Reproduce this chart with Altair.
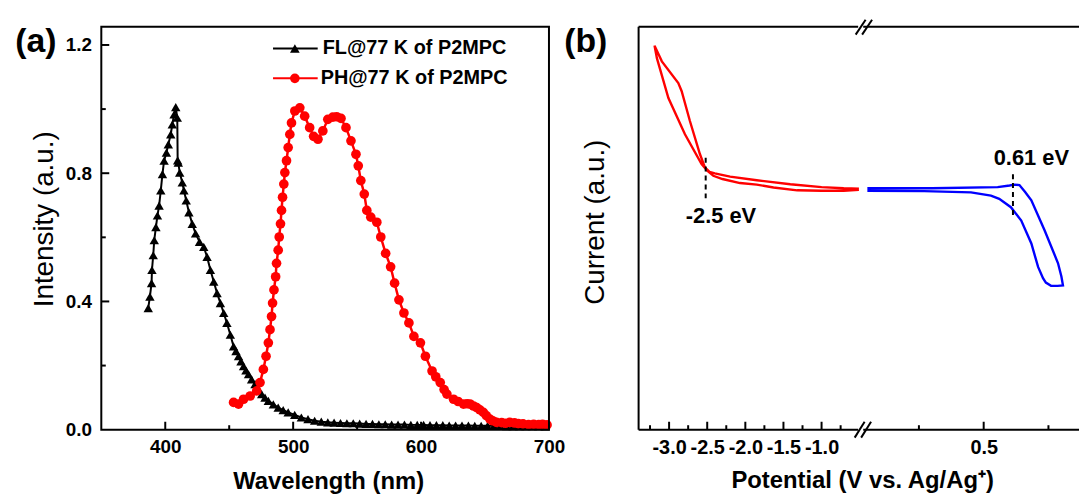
import altair as alt
import pandas as pd

FONT = "Liberation Sans"

# ---------------- Panel (a): emission spectra ----------------
fl_nm = [386.7, 388.0, 389.3, 389.6, 390.6, 391.4, 392.7, 393.9, 395.2, 396.5, 397.8, 399.1,
         400.9, 402.4, 404.3, 405.5, 406.9, 408.2, 409.4, 409.7, 410.2, 411.3, 413.3, 414.6,
         416.4, 418.5, 421.1, 423.7, 426.8, 430.1, 432.7, 435.3, 437.9, 440.5, 443.1, 445.7,
         448.2, 450.9, 453.4, 455.3, 457.3, 459.2, 461.2, 463.1, 465.1, 467.5, 470.2, 472.8,
         475.4, 478.0, 480.6, 484.5, 488.3, 492.2, 496.1, 501.2, 506.4, 511.6, 516.8, 522.0,
         527.1, 532, 537, 542, 547, 552, 557, 562, 567, 572, 577, 582, 587, 592, 597, 602,
         607, 612, 617, 622, 627, 632, 637, 642, 647, 652, 657, 662, 667, 672, 677, 682,
         687, 692, 697]
fl_int = [0.379, 0.415, 0.457, 0.498, 0.544, 0.591, 0.632, 0.668, 0.699, 0.746, 0.797, 0.839,
          0.864, 0.890, 0.921, 0.952, 0.983, 1.006, 0.973, 0.840, 0.833, 0.802, 0.771, 0.746,
          0.715, 0.678, 0.642, 0.612, 0.586, 0.570, 0.539, 0.498, 0.462, 0.426, 0.395, 0.364,
          0.333, 0.296, 0.260, 0.245, 0.229, 0.213, 0.198, 0.185, 0.173, 0.157, 0.142, 0.126,
          0.111, 0.100, 0.090, 0.079, 0.069, 0.061, 0.054, 0.046, 0.038, 0.033, 0.028, 0.025,
          0.023, 0.022, 0.021, 0.020, 0.020, 0.019, 0.018, 0.018, 0.017, 0.017, 0.016, 0.016,
          0.016, 0.015, 0.015, 0.015, 0.014, 0.014, 0.014, 0.013, 0.013, 0.013, 0.013, 0.012,
          0.012, 0.012, 0.012, 0.012, 0.011, 0.011, 0.011, 0.011, 0.011, 0.011, 0.010]

ph_nm = [453.4, 457.3, 461.2, 466.4, 471.5, 474.1, 476.7, 478.8, 480.6, 481.9, 483.1, 483.9,
         485.0, 486.3, 487.0, 488.3, 489.1, 490.1, 490.9, 491.7, 492.7, 493.5, 494.8, 496.1,
         497.4, 498.7, 501.3, 505.2, 509.0, 512.9, 516.0, 519.4, 523.2, 527.1, 531.0, 534.0,
         537.4, 541.3, 545.2, 549.1, 550.9, 552.9, 555.6, 557.6, 560.7, 565.4, 568.5, 572.3,
         576.2, 579.3, 582.7, 586.6, 590.5, 594.4, 599.5, 603.4, 608.6, 611.5, 615.0, 618.0,
         620.2, 625.4, 629.0, 633.2, 636.0, 638.3, 641.0, 643.5, 646.0, 648.7, 651.0, 653.8,
         656.0, 659.0, 663.0, 666.0, 669.3, 673.0, 676.0, 679.7, 684.0, 688.0, 692.0, 695.0,
         698.5]
ph_int = [0.085, 0.080, 0.095, 0.105, 0.121, 0.147, 0.188, 0.229, 0.271, 0.312, 0.353, 0.395,
          0.436, 0.477, 0.519, 0.560, 0.601, 0.642, 0.684, 0.725, 0.766, 0.802, 0.839, 0.880,
          0.921, 0.957, 0.994, 1.004, 0.978, 0.942, 0.915, 0.906, 0.932, 0.968, 0.975, 0.976,
          0.971, 0.942, 0.901, 0.859, 0.823, 0.777, 0.735, 0.684, 0.663, 0.647, 0.601, 0.550,
          0.508, 0.457, 0.405, 0.364, 0.333, 0.291, 0.271, 0.229, 0.183, 0.165, 0.147, 0.125,
          0.111, 0.095, 0.088, 0.080, 0.081, 0.080, 0.074, 0.069, 0.062, 0.054, 0.044, 0.033,
          0.028, 0.023, 0.022, 0.020, 0.023, 0.021, 0.019, 0.018, 0.016, 0.017, 0.016, 0.017,
          0.015]

legend_labels = ["FL@77 K of P2MPC", "PH@77 K of  P2MPC"]

a_x_major = [400, 500, 600, 700]
a_x_minor = [450, 550, 650]
a_y_labels = [0.0, 0.4, 0.8, 1.2]
a_y_major = [0.4, 0.8, 1.2]
a_y_minor = [0.2, 0.6, 1.0]

# ---------------- Panel (b): cyclic voltammetry ----------------
red_v = [-0.51, -0.71, -1.00, -1.41, -1.85, -2.20, -2.40, -2.47, -2.53, -2.596, -2.727, -2.835,
         -2.879, -3.095, -3.191, -3.160, -3.009, -2.792, -2.574, -2.50, -2.42, -2.30, -2.07,
         -1.85, -1.63, -1.32, -1.00, -0.71, -0.51]
red_i = [59.8, 59.9, 60.2, 60.9, 61.9, 62.8, 63.6, 64.0, 65.1, 68.4, 76.6, 84.0,
         86.0, 91.4, 95.3, 92.2, 82.3, 73.3, 65.9, 64.3, 63.0, 62.2, 61.2,
         60.8, 60.1, 59.4, 59.3, 59.3, 59.5]

blue_v = [0.051, 0.30, 0.554, 0.60, 0.619, 0.638, 0.660, 0.684, 0.735, 0.787, 0.800, 0.806,
          0.785, 0.760, 0.740, 0.729, 0.710, 0.684, 0.645, 0.605, 0.560, 0.528, 0.451, 0.270,
          0.051]
blue_i = [59.9, 59.9, 60.2, 60.6, 60.8, 60.7, 59.0, 56.9, 49.5, 41.3, 38.0, 35.8,
          35.7, 35.7, 36.5, 37.6, 40.4, 46.2, 51.9, 55.2, 57.3, 58.1, 58.9, 59.2,
          59.3]

b_red_major = [-3.0, -2.5, -2.0, -1.5, -1.0]
b_red_minor = [-3.25, -2.75, -2.25, -1.75, -1.25, -0.75]
b_blue_major = [0.5]
b_blue_minor = [0.25, 0.75]

onset_v = [-2.52, 0.613]
onset_top = [67.5, 63.4]
onset_bottom = [56.9, 52.7]
onset_labels = ["-2.5 eV", "0.61 eV"]
onset_label_v = [-2.32, 0.684]
onset_label_i = [52.9, 67.5]

# ---------------- layout constants ----------------
W, H = 985, 406
RED = "#ff0000"
BLUE = "#0000ff"

a_xs = alt.Scale(domain=[350, 700], range=[0, 451], nice=False, zero=False)
a_ys = alt.Scale(domain=[0, 1.257], nice=False, zero=False)
r_xs = alt.Scale(domain=[-3.40, -0.52], range=[541.3, 762.5], nice=False, zero=False)
b_xs = alt.Scale(domain=[0.035, 0.868], range=[767.6, 985], nice=False, zero=False)
cv_ys = alt.Scale(domain=[0, 100], nice=False, zero=False)

common = dict(ticks=False, domain=False, grid=False, labelOverlap=False, labelFlush=False, title=None)
a_x_axis = alt.Axis(orient="bottom", values=a_x_major, format="d", labelPadding=8,
                    labelFontSize=19, **common)
a_y_axis = alt.Axis(orient="left", values=a_y_labels, format=".1f", labelPadding=10,
                    labelFontSize=19, **common)
r_x_axis = alt.Axis(orient="bottom", values=b_red_major, labelPadding=8, labelFontSize=20,
                    labelExpr="(datum.value < 0 ? '-' : '') + format(abs(datum.value), '.1f')", **common)
b_x_axis = alt.Axis(orient="bottom", values=b_blue_major, format=".1f", labelPadding=8,
                    labelFontSize=20, **common)

XA = alt.X("nm:Q", scale=a_xs, axis=a_x_axis)
YA = alt.Y("I:Q", scale=a_ys, axis=a_y_axis)
XR = alt.X("V:Q", scale=r_xs, axis=r_x_axis)
XB = alt.X("V:Q", scale=b_xs, axis=b_x_axis)
YC = alt.Y("I:Q", scale=cv_ys, axis=None)

fl_df = pd.DataFrame({"nm": fl_nm, "I": fl_int})
ph_df = pd.DataFrame({"nm": ph_nm, "I": ph_int})

fl_line = alt.Chart(fl_df).mark_line(color="black", strokeWidth=2).encode(x=XA, y=YA)
fl_pts = alt.Chart(fl_df).mark_point(shape="triangle-up", filled=True, color="black",
                                     size=90, opacity=1).encode(x=XA, y=YA)
ph_line = alt.Chart(ph_df).mark_line(color=RED, strokeWidth=2.5).encode(x=XA, y=YA)
ph_pts = alt.Chart(ph_df).mark_circle(color=RED, size=95, opacity=1).encode(x=XA, y=YA)


def xticks(vals, field, X, length):
    return alt.Chart(pd.DataFrame({field: vals})).mark_rule(color="black", strokeWidth=2).encode(
        x=X, y=alt.value(H), y2=alt.value(H - length))


a_ticks_y_major = alt.Chart(pd.DataFrame({"I": a_y_major})).mark_rule(color="black", strokeWidth=2).encode(
    y=YA, x=alt.value(0), x2=alt.value(8))
a_ticks_y_minor = alt.Chart(pd.DataFrame({"I": a_y_minor})).mark_rule(color="black", strokeWidth=2).encode(
    y=YA, x=alt.value(0), x2=alt.value(4.5))

group_a = alt.layer(
    fl_line, fl_pts, ph_line, ph_pts,
    xticks(a_x_major, "nm", XA, 8), xticks(a_x_minor, "nm", XA, 4.5),
    a_ticks_y_major, a_ticks_y_minor,
)

red_df = pd.DataFrame({"V": red_v, "I": red_i, "idx": list(range(len(red_v)))})
blue_df = pd.DataFrame({"V": blue_v, "I": blue_i, "idx": list(range(len(blue_v)))})

red_line = alt.Chart(red_df).mark_line(color=RED, strokeWidth=2.4).encode(
    x=XR, y=YC, order=alt.Order("idx:Q"))
blue_line = alt.Chart(blue_df).mark_line(color=BLUE, strokeWidth=2.4).encode(
    x=XB, y=YC, order=alt.Order("idx:Q"))


def onset(i, X):
    d = pd.DataFrame({"V": [onset_v[i]], "I": [onset_top[i]], "I2": [onset_bottom[i]]})
    rule = alt.Chart(d).mark_rule(color="black", strokeWidth=2, strokeDash=[5, 4]).encode(
        x=X, y=YC, y2="I2:Q")
    t = pd.DataFrame({"V": [onset_label_v[i]], "I": [onset_label_i[i]], "t": [onset_labels[i]]})
    txt = alt.Chart(t).mark_text(font=FONT, fontSize=22, fontWeight="bold", color="black",
                                 align="center", baseline="middle").encode(x=X, y=YC, text="t:N")
    return rule, txt


r_rule, r_txt = onset(0, XR)
b_rule, b_txt = onset(1, XB)

group_r = alt.layer(red_line, xticks(b_red_major, "V", XR, 8), xticks(b_red_minor, "V", XR, 4.5),
                    r_rule, r_txt)
group_b = alt.layer(blue_line, xticks(b_blue_major, "V", XB, 8), xticks(b_blue_minor, "V", XB, 4.5),
                    b_rule, b_txt)

# ---------------- decorations (frames, labels, legend) ----------------
one = pd.DataFrame({"d": [0]})


def seg(x1, x2, y1, y2, color="black", width=2):
    return alt.Chart(one).mark_rule(color=color, strokeWidth=width).encode(
        x=alt.value(x1), x2=alt.value(x2), y=alt.value(y1), y2=alt.value(y2))


def label(text, x, y, size, weight="bold", angle=0, align="center", baseline="middle"):
    return alt.Chart(one).mark_text(text=text, font=FONT, fontSize=size, fontWeight=weight,
                                    color="black", angle=angle, align=align,
                                    baseline=baseline).encode(x=alt.value(x), y=alt.value(y))


frame_a = alt.Chart(one).mark_rect(fillOpacity=0, stroke="black", strokeWidth=2).encode(
    x=alt.value(0), x2=alt.value(451), y=alt.value(0), y2=alt.value(H))

decos = [
    frame_a,
    seg(541.3, 541.3, 0, H),
    seg(541.3, 762.5, 0, 0), seg(767.6, W, 0, 0),
    seg(541.3, 762.5, H, H), seg(767.6, W, H, H),
    seg(760, 770, 8, -7), seg(766.5, 776.5, 8, -7),
    seg(759, 769, H + 8, H - 8), seg(765.5, 775.5, H + 8, H - 8),
    label("(a)", -66, 15, 34),
    label("(b)", 488, 15, 34),
    label("Intensity (a.u.)", -57, 194, 28, weight="normal", angle=270),
    label("Current (a.u.)", 498.5, 197, 28, weight="normal", angle=270),
    label("Wavelength (nm)", 229, 466, 24, baseline="alphabetic"),
    label("Potential (V vs. Ag/Ag\u207a)", 767, 465, 24, baseline="alphabetic"),
    # legend
    seg(173, 218, 22, 22),
    alt.Chart(one).mark_point(shape="triangle-up", filled=True, color="black", size=95, opacity=1).encode(
        x=alt.value(195), y=alt.value(22)),
    label(legend_labels[0], 223, 22, 20, align="left"),
    seg(173, 218, 52, 52, color=RED),
    alt.Chart(one).mark_circle(color=RED, size=95, opacity=1).encode(x=alt.value(195), y=alt.value(52)),
    label(legend_labels[1], 221, 52, 20, align="left"),
]

chart = alt.layer(group_a, group_r, group_b, *decos).resolve_scale(
    x="independent", y="independent"
).properties(
    width=W, height=H,
    autosize=alt.AutoSizeParams(type="none"),
    padding={"left": 94, "top": 17, "right": 2, "bottom": 69},
).configure_view(strokeWidth=0).configure_axis(
    labelFont=FONT, labelFontSize=18, labelFontWeight="bold", labelColor="black"
)

chart.save("out.html", embed_options={"renderer": "svg", "actions": False})
